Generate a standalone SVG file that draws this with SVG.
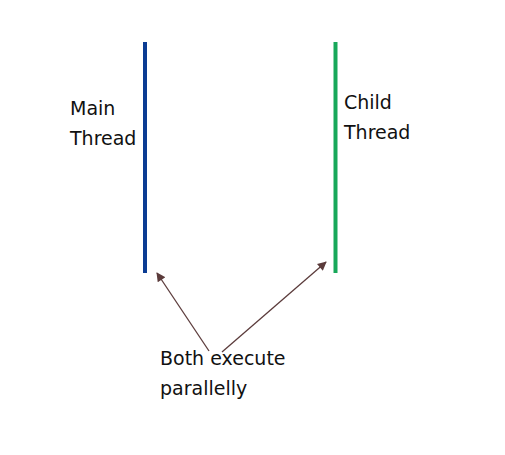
<svg xmlns="http://www.w3.org/2000/svg" width="505" height="455" viewBox="0 0 505 455">
<defs>
<style>
text{font-family:"DejaVu Sans","Liberation Sans",sans-serif;font-size:19px;fill:#111}
.conn{stroke:#5b3b3b;stroke-width:1.3;fill:none;marker-end:url(#ah)}
</style>
<marker id="ah" viewBox="0 0 10 10" refX="9" refY="5" markerWidth="10" markerHeight="9" markerUnits="userSpaceOnUse" orient="auto"><path d="M0,0 L10,5 L0,10 z" fill="#5b3b3b"/></marker>
</defs>
<rect width="505" height="455" fill="#fff"/>
<g id="main-thread">
<line x1="145" y1="42" x2="145" y2="273" stroke="#0b3c93" stroke-width="4"/>
<text x="70" y="115">Main</text>
<text x="70" y="145">Thread</text>
</g>
<g id="child-thread">
<line x1="335.5" y1="42" x2="335.5" y2="273" stroke="#18a85a" stroke-width="4"/>
<text x="344" y="109">Child</text>
<text x="344" y="139">Thread</text>
</g>
<g id="label">
<text x="160" y="365">Both execute</text>
<text x="160" y="395">parallelly</text>
</g>
<g id="connectors">
<line class="conn" x1="209" y1="351" x2="157" y2="273"/>
<line class="conn" x1="222" y1="352" x2="326" y2="262"/>
</g>
</svg>
